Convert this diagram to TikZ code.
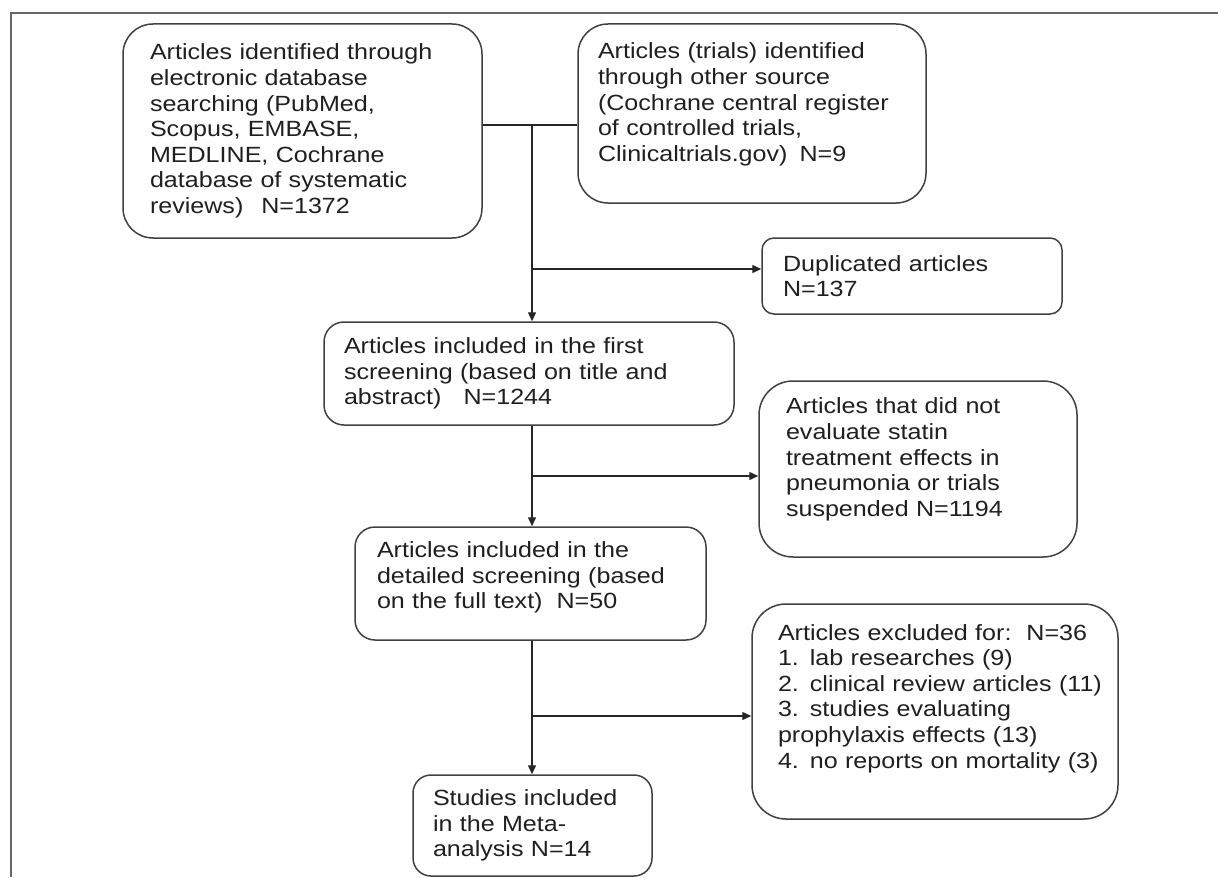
\documentclass[tikz,border=0pt]{standalone}
\usepackage{fontspec}
\setmainfont{Liberation Sans}[FakeStretch=1.14]
\usetikzlibrary{arrows.meta}
\begin{document}
\begin{tikzpicture}[x=0.5pt,y=-0.5pt,
  box/.style={draw=black!75,line width=0.75pt,align=left,inner ysep=0pt,
    font=\fontsize{11pt}{12.8pt}\selectfont,text=black!88},
  link/.style={draw=black!85,line width=0.7pt},
  flow/.style={link,-{Triangle[length=4.5pt,width=4pt]}}]
\useasboundingbox (0,0) rectangle (1218,877);
\draw[black!60,line width=1pt] (1218,13) -- (11,13) -- (11,877);

\node[box,rounded corners=15pt,minimum height=107pt,text width=152.5pt,inner xsep=13.5pt] (db) at (302.5,131)
  {Articles identified through\\electronic database\\searching (PubMed,\\Scopus, EMBASE,\\MEDLINE, Cochrane\\database of systematic\\reviews)\hspace{9pt}N=1372};
\node[box,rounded corners=15pt,minimum height=89.5pt,text width=154pt,inner xsep=10pt] (other) at (752,113.5)
  {Articles (trials) identified\\through other source\\(Cochrane central register\\of controlled trials,\\Clinicaltrials.gov)\hspace{6pt}N=9\par\vspace{9pt}};
\node[box,rounded corners=6pt,minimum height=38pt,text width=129pt,inner xsep=10.5pt] (dup) at (912,276)
  {Duplicated articles\\N=137};
\node[box,rounded corners=10pt,minimum height=51.5pt,text width=185pt,inner xsep=10pt] (first) at (529,373.5)
  {Articles included in the first\\screening (based on title and\\abstract)\hspace{11pt}N=1244};
\node[box,rounded corners=17pt,minimum height=88pt,text width=132pt,inner xsep=13.5pt] (noteval) at (918,469)
  {Articles that did not\\evaluate statin\\treatment effects in\\pneumonia or trials\\suspended N=1194\par\vspace{9.5pt}};
\node[box,rounded corners=10pt,minimum height=56.5pt,text width=153.5pt,inner xsep=11pt] (detail) at (530.5,583.5)
  {Articles included in the\\detailed screening (based\\on the full text)\hspace{7pt}N=50\par\vspace{6pt}};
\node[box,rounded corners=17pt,minimum height=107.5pt,text width=157pt,inner xsep=13pt] (excl) at (935,711.5)
  {Articles excluded for:\hspace{7.5pt}N=36\\\mbox{1. lab researches (9)}\\\mbox{2. clinical review articles (11)}\\\mbox{3. studies evaluating}\\\mbox{prophylaxis effects (13)}\\\mbox{4. no reports on mortality (3)}\par\vspace{13pt}};
\node[box,rounded corners=9pt,minimum height=50.5pt,text width=99.5pt,inner xsep=10pt] (meta) at (532.5,825.5)
  {Studies included\\in the Meta-\\analysis N=14};

% trunk and side branches
\coordinate (trunk) at (532,125);
\coordinate (dupbr) at (532,269);
\coordinate (evalbr) at (532,476);
\coordinate (exclbr) at (532,716);
\draw[link] (trunk -| db.east) -- (trunk -| other.west);
\draw[flow] (trunk) -- (trunk |- first.north);
\draw[flow] (dupbr) -- (dupbr -| dup.west);
\draw[flow] (trunk |- first.south) -- (trunk |- detail.north);
\draw[flow] (evalbr) -- (evalbr -| noteval.west);
\draw[flow] (trunk |- detail.south) -- (trunk |- meta.north);
\draw[flow] (exclbr) -- (exclbr -| excl.west);
\end{tikzpicture}
\end{document}
